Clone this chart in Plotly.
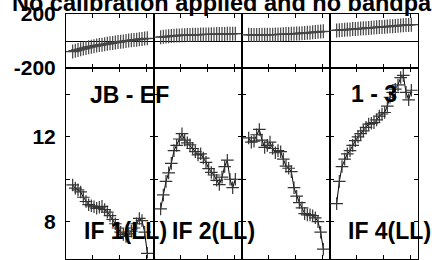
import plotly.graph_objects as go

# ---------------- data ----------------
channels = list(range(3, 32))

amp_if1 = [9.73, 9.58, 9.50, 9.40, 9.15, 8.95, 8.80, 8.75, 8.70, 8.63,
           8.68, 8.72, 8.57, 8.45, 8.28, 8.10, 7.90, 7.70, 7.50, 7.40,
           7.30, 7.42, 7.55, 7.70, 7.90, 8.15, 8.05, 7.50, 6.50]
amp_if2 = [8.60, 9.26, 9.90, 10.30, 10.75, 11.35, 11.60, 11.90, 12.15, 11.85,
           11.72, 11.62, 11.45, 11.30, 11.15, 11.20, 11.00, 10.80, 10.50, 10.32,
           10.20, 9.95, 9.75, 10.10, 10.60, 10.90, 10.00, 9.60, 10.00]
amp_if3 = [11.95, 11.75, 11.80, 12.10, 12.35, 11.85, 11.50, 11.60, 11.75, 11.45,
           11.25, 11.35, 11.30, 10.95, 10.62, 10.52, 10.36, 9.60, 9.20, 8.90,
           8.65, 8.38, 8.32, 8.32, 8.28, 8.18, 8.00, 7.50, 6.70]
amp_if4 = [8.85, 9.90, 10.60, 10.95, 11.20, 11.35, 11.60, 11.82, 12.00, 12.15,
           12.28, 12.45, 12.60, 12.64, 12.67, 12.80, 12.98, 13.08, 13.15, 13.45,
           13.87, 14.10, 14.25, 14.45, 14.80, 14.90, 14.10, 13.75, 14.20]

phase_if1 = [-78, -72, -66, -61, -56, -51, -46, -42, -38, -34,
             -30, -27, -24, -21, -17, -14, -11, -8, -5, -3,
             0, 3, 5, 8, 10, 13, 15, 18, 20]
phase_if2 = [28, 31, 33, 35, 37, 38, 40, 41, 42, 43,
             44, 45, 46, 46, 47, 48, 48, 49, 49, 50,
             50, 51, 51, 52, 52, 53, 53, 54, 54]
phase_if3 = [46, 45, 45, 45, 45, 46, 46, 46, 47, 47,
             48, 48, 49, 50, 51, 52, 53, 54, 55, 56,
             58, 59, 61, 62, 64, 66, 68, 70, 72]
phase_if4 = [78, 80, 82, 83, 85, 86, 88, 89, 91, 92,
             94, 95, 97, 98, 100, 101, 103, 104, 106, 107,
             109, 110, 112, 113, 115, 116, 118, 119, 121]

amp_series = [amp_if1, amp_if2, amp_if3, amp_if4]
phase_series = [phase_if1, phase_if2, phase_if3, phase_if4]

title_text = "No calibration applied and no bandpass"
baseline_label = "JB - EF"
source_label = "1 - 3"
if_labels = ["IF 1(LL)", "IF 2(LL)", None, "IF 4(LL)"]

amp_tickvals = [8, 10, 12, 14]
amp_ticktext = ["8", "", "12", ""]
phase_tickvals = [-200, 200]
phase_ticktext = ["-200", "200"]
chan_tickvals = [10.5, 20.5, 30.5]

# ---------------- layout helpers ----------------
W, H = 432, 260
panel_left = [66, 154, 242, 330]
panel_w = 88
ph_top, ph_bot = 14, 68
am_top, am_bot = 68, 258.5

def fx(px):
    return px / W

def fy(py):
    return 1 - py / H

FONT = "Liberation Sans, Arial, sans-serif"

fig = go.Figure()
layout = dict(
    width=W, height=H,
    margin=dict(l=0, r=0, t=0, b=0, autoexpand=False),
    paper_bgcolor="white", plot_bgcolor="white",
    showlegend=False,
)

marker_amp = dict(symbol="cross-thin", size=9, line=dict(width=1.2, color="#333"))
marker_ph = dict(symbol="cross-thin", size=10, line=dict(width=1.2, color="#444"))

for i in range(4):
    ia = i + 1
    ip = i + 5
    fig.add_trace(go.Scatter(
        x=channels, y=amp_series[i], mode="lines+markers",
        line=dict(color="black", width=1), marker=marker_amp,
        xaxis=f"x{ia}", yaxis=f"y{ia}", cliponaxis=True))
    fig.add_trace(go.Scatter(
        x=channels, y=phase_series[i], mode="lines+markers",
        line=dict(color="black", width=1), marker=marker_ph,
        xaxis=f"x{ip}", yaxis=f"y{ip}", cliponaxis=True))

    dom_x = [fx(panel_left[i]), fx(panel_left[i] + panel_w)]
    common_x = dict(
        domain=dom_x, range=[0.5, 33.5], tickvals=chan_tickvals,
        ticks="inside", ticklen=4, tickcolor="black", showticklabels=False,
        showline=True, mirror="ticks", linecolor="black", linewidth=1,
        showgrid=False, zeroline=False, automargin=False,
    )
    layout[f"xaxis{ia}"] = dict(common_x, anchor=f"y{ia}")
    layout[f"xaxis{ip}"] = dict(common_x, anchor=f"y{ip}")

    layout[f"yaxis{ia}"] = dict(
        domain=[fy(am_bot), fy(am_top)], range=[6.26, 15.25],
        anchor=f"x{ia}", tickvals=amp_tickvals, ticktext=amp_ticktext,
        ticks="inside", ticklen=4, tickcolor="black",
        showticklabels=(i == 0), ticklabelstandoff=5, automargin=False,
        tickfont=dict(family=FONT, size=21, color="black", weight="bold"),
        showline=True, mirror="ticks", linecolor="black", linewidth=1,
        showgrid=False, zeroline=False,
    )
    layout[f"yaxis{ip}"] = dict(
        domain=[fy(ph_bot), fy(ph_top)], range=[-200, 200],
        anchor=f"x{ip}", tickvals=phase_tickvals, ticktext=phase_ticktext,
        ticks="inside", ticklen=4, tickcolor="black",
        showticklabels=(i == 0), ticklabelstandoff=5, automargin=False,
        tickfont=dict(family=FONT, size=21, color="black", weight="bold"),
        showline=True, mirror="ticks", linecolor="black", linewidth=1,
        showgrid=False, zeroline=True, zerolinecolor="black", zerolinewidth=1,
    )

annots = []
def label(text, x, y, xanchor, size=23):
    annots.append(dict(
        text=text, x=fx(x), y=fy(y), xref="paper", yref="paper",
        xanchor=xanchor, yanchor="middle", showarrow=False,
        font=dict(family=FONT, size=size, color="black", weight="bold")))

label(title_text, 10, 3.5, "left", 23.5)
label(baseline_label, 129, 95, "center")
label(source_label, 373.5, 94, "center")
for i, t in enumerate(if_labels):
    if t:
        label(t, panel_left[i] + 15.5, 231, "left")

layout["annotations"] = annots
fig.update_layout(**layout)
fig.write_html("out.html",
               config={"displayModeBar": False, "staticPlot": True},
               post_script="document.body.style.margin='0';"
                           "document.body.style.overflow='hidden';")
